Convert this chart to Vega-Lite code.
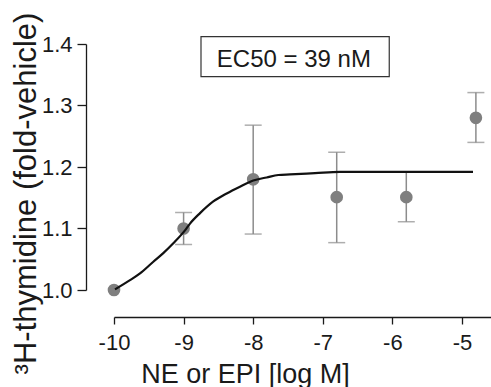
{
  "$schema": "https://vega.github.io/schema/vega-lite/v6.json",
  "width": 377,
  "height": 246,
  "autosize": {"type": "none"},
  "padding": {"left": 114, "top": 44, "right": 0, "bottom": 97},
  "config": {
    "view": {"stroke": null},
    "font": "Liberation Sans",
    "axis": {
      "grid": false,
      "domainColor": "#1a1a1a",
      "domainWidth": 1.3,
      "tickColor": "#1a1a1a",
      "tickWidth": 1.3,
      "labelFont": "Liberation Sans",
      "labelFontSize": 22,
      "labelColor": "#1a1a1a",
      "titleFont": "Liberation Sans",
      "titleFontWeight": "normal",
      "titleColor": "#1a1a1a",
      "labelOverlap": false,
      "labelFlush": false
    },
    "axisX": {
      "offset": 27,
      "tickSize": 7,
      "labelPadding": 8,
      "titleFontSize": 27,
      "titleX": 131,
      "titleY": 65,
      "titleAlign": "center",
      "titleBaseline": "alphabetic"
    },
    "axisY": {
      "offset": 28,
      "tickSize": 9,
      "labelPadding": 5,
      "titleFontSize": 31,
      "titleX": -51,
      "titleY": 149,
      "titleAngle": 270,
      "titleAlign": "center",
      "titleBaseline": "alphabetic"
    }
  },
  "datasets": {
    "points": [
      {"logc": -10, "mean": 1.0, "lo": null, "hi": null},
      {"logc": -9, "mean": 1.1, "lo": 1.074, "hi": 1.126},
      {"logc": -8, "mean": 1.18, "lo": 1.091, "hi": 1.268},
      {"logc": -6.8, "mean": 1.151, "lo": 1.077, "hi": 1.224},
      {"logc": -5.8, "mean": 1.151, "lo": 1.111, "hi": 1.192},
      {"logc": -4.8, "mean": 1.28, "lo": 1.24, "hi": 1.321}
    ],
    "curve": [
      {"logc": -9.986, "fit": 1.001},
      {"logc": -9.77, "fit": 1.016},
      {"logc": -9.626, "fit": 1.027},
      {"logc": -9.435, "fit": 1.046},
      {"logc": -9.292, "fit": 1.06},
      {"logc": -9.148, "fit": 1.076},
      {"logc": -8.98, "fit": 1.097},
      {"logc": -8.908, "fit": 1.108},
      {"logc": -8.764, "fit": 1.125},
      {"logc": -8.573, "fit": 1.144},
      {"logc": -8.381, "fit": 1.157},
      {"logc": -8.19, "fit": 1.168},
      {"logc": -7.999, "fit": 1.178},
      {"logc": -7.806, "fit": 1.183},
      {"logc": -7.639, "fit": 1.187},
      {"logc": -7.471, "fit": 1.188},
      {"logc": -7.112, "fit": 1.19},
      {"logc": -6.753, "fit": 1.192},
      {"logc": -4.842, "fit": 1.192}
    ],
    "note": [
      {"x1": -8.75, "x2": -6.045, "y1": 1.412, "y2": 1.347, "tx": -7.415, "ty": 1.363, "label": "EC50 = 39 nM"}
    ]
  },
  "layer": [
    {
      "data": {"name": "points"},
      "mark": {"type": "rule", "color": "#8c8c8c", "strokeWidth": 1.5},
      "encoding": {
        "x": {
          "field": "logc", "type": "quantitative", "title": "NE or EPI [log M]",
          "scale": {"domain": [-10, -4.583], "nice": false, "zero": false},
          "axis": {"values": [-10, -9, -8, -7, -6, -5], "labelExpr": "'' + datum.value"}
        },
        "y": {
          "field": "lo", "type": "quantitative", "title": "³H-thymidine (fold-vehicle)",
          "scale": {"domain": [1.0, 1.4], "nice": false, "zero": false},
          "axis": {"values": [1.0, 1.1, 1.2, 1.3, 1.4], "format": ".1f"}
        },
        "y2": {"field": "hi"}
      }
    },
    {
      "data": {"name": "points"},
      "mark": {"type": "tick", "orient": "horizontal", "color": "#8c8c8c", "size": 17, "thickness": 1.5},
      "encoding": {
        "x": {"field": "logc", "type": "quantitative", "title": "NE or EPI [log M]"},
        "y": {"field": "lo", "type": "quantitative", "title": "³H-thymidine (fold-vehicle)"}
      }
    },
    {
      "data": {"name": "points"},
      "mark": {"type": "tick", "orient": "horizontal", "color": "#8c8c8c", "size": 17, "thickness": 1.5},
      "encoding": {
        "x": {"field": "logc", "type": "quantitative", "title": "NE or EPI [log M]"},
        "y": {"field": "hi", "type": "quantitative", "title": "³H-thymidine (fold-vehicle)"}
      }
    },
    {
      "data": {"name": "points"},
      "mark": {"type": "circle", "color": "#7f7f7f", "size": 160, "opacity": 1},
      "encoding": {
        "x": {"field": "logc", "type": "quantitative", "title": "NE or EPI [log M]"},
        "y": {"field": "mean", "type": "quantitative", "title": "³H-thymidine (fold-vehicle)"}
      }
    },
    {
      "data": {"name": "curve"},
      "mark": {"type": "line", "color": "#111111", "strokeWidth": 2.2, "interpolate": "monotone"},
      "encoding": {
        "x": {"field": "logc", "type": "quantitative", "title": "NE or EPI [log M]"},
        "y": {"field": "fit", "type": "quantitative", "title": "³H-thymidine (fold-vehicle)"}
      }
    },
    {
      "data": {"name": "note"},
      "mark": {"type": "rect", "fillOpacity": 0, "stroke": "#333333", "strokeWidth": 1.2},
      "encoding": {
        "x": {"field": "x1", "type": "quantitative", "title": "NE or EPI [log M]"},
        "x2": {"field": "x2"},
        "y": {"field": "y1", "type": "quantitative", "title": "³H-thymidine (fold-vehicle)"},
        "y2": {"field": "y2"}
      }
    },
    {
      "data": {"name": "note"},
      "mark": {"type": "text", "fontSize": 24, "align": "center", "baseline": "alphabetic", "color": "#1a1a1a", "font": "Liberation Sans"},
      "encoding": {
        "x": {"field": "tx", "type": "quantitative", "title": "NE or EPI [log M]"},
        "y": {"field": "ty", "type": "quantitative", "title": "³H-thymidine (fold-vehicle)"},
        "text": {"field": "label"}
      }
    }
  ]
}
